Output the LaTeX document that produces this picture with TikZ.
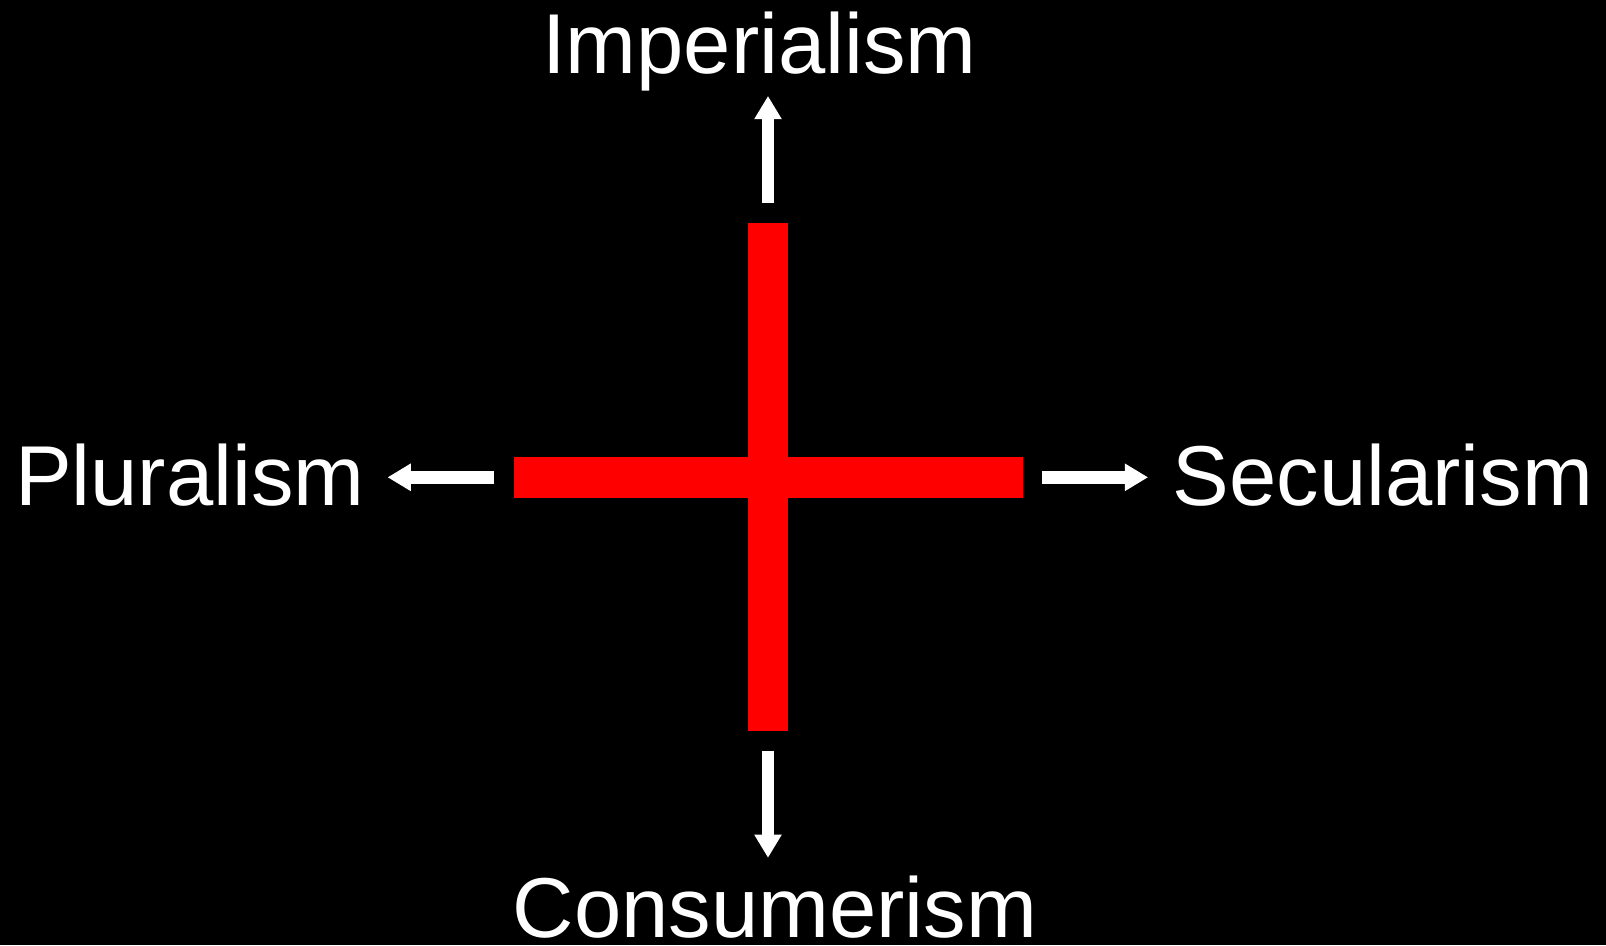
\documentclass[tikz,border=0pt]{standalone}
\usepackage{fontspec}
\setmainfont{Liberation Sans}
\usetikzlibrary{arrows.meta}
\definecolor{crossRed}{HTML}{FF0000}

\begin{document}
\begin{tikzpicture}[
		x=1pt, y=-1pt,
		every node/.style={font=\fontsize{85}{100}\selectfont, text=white},
		ism/.style={anchor=base, inner sep=0pt},
		bar/.style={fill=crossRed, inner sep=0pt},
		arrow/.style={-{Triangle[length=23.3pt, width=26pt]}, line width=12.7pt, draw=white}
	]
		\fill[black] (0,0) rectangle (1606,945);

		\node[bar, minimum width=40.6pt, minimum height=508.3pt] (vbar) at (768,476.9) {};
		\node[bar, minimum width=509pt, minimum height=41pt] (hbar) at (768.5,477.3) {};

		\node[ism] (imp) at (759.3,73.3) {Imperialism};
		\node[ism] (con) at (774.8,937.3) {Consumerism};
		\node[ism] (plu) at (189.9,505.7) {Pluralism};
		\node[ism] (sec) at (1383,505.7) {Secularism};

		\draw[arrow, shorten <=19.4pt, shorten >=4.8pt] (vbar.north) -- (vbar.north |- imp.south);
		\draw[arrow, shorten <=19.7pt, shorten >=17.7pt] (vbar.south) -- (vbar.south |- con.north);
		\draw[arrow, shorten <=19.7pt, shorten >=22.7pt] (hbar.west) -- (hbar.west -| plu.east);
		\draw[arrow, shorten <=18.7pt, shorten >=24.5pt] (hbar.east) -- (hbar.east -| sec.west);
	\end{tikzpicture}
\end{document}
